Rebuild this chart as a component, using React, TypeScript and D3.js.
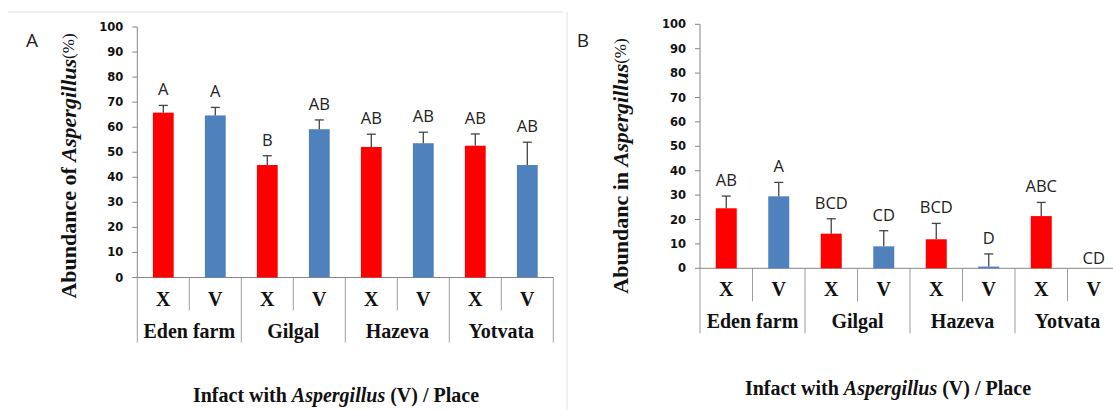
import * as d3 from "d3";
import React from "react";

// categories
const places = ["Eden farm", "Gilgal", "Hazeva", "Yotvata"];
const treatments = ["X", "V"];
const yTicks = [0, 10, 20, 30, 40, 50, 60, 70, 80, 90, 100];

// panel A: abundance of Aspergillus (%)
const meansA = [65.8, 64.7, 44.9, 59.2, 52.1, 53.6, 52.6, 44.9];
const errorsA = [2.9, 3.2, 3.7, 3.7, 5.1, 4.4, 4.7, 9.1];
const lettersA = ["A", "A", "B", "AB", "AB", "AB", "AB", "AB"];

// panel B: abundance in Aspergillus (%)
const meansB = [24.6, 29.5, 14.2, 9.0, 11.9, 0.7, 21.4, 0];
const errorsB = [5.0, 5.7, 6.1, 6.4, 6.5, 5.2, 5.6, 0];
const lettersB = ["AB", "A", "BCD", "CD", "BCD", "D", "ABC", "CD"];

const RED = "#ff0000";
const BLUE = "#4f81bd";
const AXIS = "#868686";
const SERIF = "Liberation Serif";
const SANS = "Open Sans";

const keys = places.flatMap((p) => treatments.map((t) => p + "|" + t));

type PanelProps = {
  label: string;
  labelX: number;
  means: number[];
  errors: number[];
  letters: string[];
  yWord: string;
  x0: number;
  slot: number;
  yBottom: number;
  yTop: number;
  titleX: number;
  xTitleX: number;
  xTitleY: number;
};

function Panel(p: PanelProps) {
  const x = d3
    .scaleBand<string>()
    .domain(keys)
    .range([p.x0, p.x0 + p.slot * keys.length])
    .paddingInner(0.6)
    .paddingOuter(0.3);
  const y = d3.scaleLinear().domain([0, 100]).range([p.yBottom, p.yTop]);
  const bw = x.bandwidth();

  return (
    <g>
      <text x={p.labelX} y={40} fontFamily={SANS} fontSize={19} textAnchor="middle" dominantBaseline="central" fill="#222">
        {p.label}
      </text>

      {/* y title */}
      <text
        transform={`translate(${p.titleX},166) rotate(-90)`}
        textAnchor="middle"
        dominantBaseline="central"
        fontFamily={SERIF}
        fontSize={22}
        fill="#111"
      >
        <tspan fontWeight="bold">{p.yWord}</tspan>
        <tspan fontWeight="bold" fontStyle="italic">Aspergillus</tspan>
        <tspan fontSize={17}>(%)</tspan>
      </text>

      {/* y axis */}
      <line x1={p.x0} x2={p.x0} y1={y(0)} y2={y(100)} stroke={AXIS} />
      {yTicks.map((t) => (
        <g key={t}>
          <line x1={p.x0 - 5} x2={p.x0} y1={y(t)} y2={y(t)} stroke={AXIS} />
          <text
            x={p.x0 - 14}
            y={y(t)}
            textAnchor="end"
            dominantBaseline="central"
            fontFamily="DejaVu Sans"
            fontWeight="bold"
            fontSize={11.5}
            fill="#111"
          >
            {t}
          </text>
        </g>
      ))}

      {/* x axis and category dividers */}
      <line x1={p.x0} x2={p.x0 + p.slot * keys.length} y1={y(0)} y2={y(0)} stroke={AXIS} />
      {d3.range(keys.length + 1).map((i) => (
        <line
          key={i}
          x1={p.x0 + i * p.slot}
          x2={p.x0 + i * p.slot}
          y1={y(0)}
          y2={y(0) + (i % 2 === 0 ? 65 : 33)}
          stroke={AXIS}
          strokeOpacity={0.8}
        />
      ))}

      {/* bars */}
      {keys.map((k, i) => {
        const cx = (x(k) as number) + bw / 2;
        const top = y(p.means[i] + p.errors[i]);
        return (
          <g key={k}>
            <rect
              x={x(k)}
              y={y(p.means[i])}
              width={bw}
              height={y(0) - y(p.means[i])}
              fill={i % 2 === 0 ? RED : BLUE}
            />
            {p.errors[i] > 0 && (
              <g stroke="#444" strokeWidth={1.3}>
                <line x1={cx} x2={cx} y1={y(p.means[i])} y2={top} />
                <line x1={cx - 4.5} x2={cx + 4.5} y1={top} y2={top} />
              </g>
            )}
            <text
              x={cx}
              y={top - (p.errors[i] > 0 ? 10 : 4)}
              textAnchor="middle"
              fontFamily={SANS}
              fontSize={16.5}
              fill="#222"
            >
              {p.letters[i]}
            </text>
            <text
              x={cx}
              y={y(0) + 21}
              textAnchor="middle"
              dominantBaseline="central"
              fontFamily={SERIF}
              fontWeight="bold"
              fontSize={20}
              fill="#111"
            >
              {k.split("|")[1]}
            </text>
          </g>
        );
      })}

      {places.map((pl, j) => (
        <text
          key={pl}
          x={p.x0 + (j * 2 + 1) * p.slot}
          y={y(0) + 53}
          textAnchor="middle"
          dominantBaseline="central"
          fontFamily={SERIF}
          fontWeight="bold"
          fontSize={20}
          fill="#111"
        >
          {pl}
        </text>
      ))}

      {/* x title */}
      <text
        x={p.xTitleX}
        y={p.xTitleY}
        textAnchor="middle"
        dominantBaseline="central"
        fontFamily={SERIF}
        fontWeight="bold"
        fontSize={20}
        fill="#111"
      >
        Infact with <tspan fontStyle="italic">Aspergillus</tspan> (V) / Place
      </text>
    </g>
  );
}

export default function App() {
  return (
    <svg
      width={1113}
      height={410}
      style={{ position: "absolute", left: 0, top: 0, background: "#fff" }}
    >
      <line x1={8} x2={563} y1={12} y2={12} stroke="#dedede" />
      <line x1={567} x2={567} y1={12} y2={410} stroke="#e4e4e4" />
      <Panel
        label="A"
        labelX={32}
        means={meansA}
        errors={errorsA}
        letters={lettersA}
        yWord="Abundance of "
        x0={137.3}
        slot={52}
        yBottom={277.5}
        yTop={27}
        titleX={68}
        xTitleX={336}
        xTitleY={395}
      />
      <Panel
        label="B"
        labelX={583}
        means={meansB}
        errors={errorsB}
        letters={lettersB}
        yWord="Abundanc  in "
        x0={700}
        slot={52.5}
        yBottom={268.3}
        yTop={24.3}
        titleX={620}
        xTitleX={888}
        xTitleY={388}
      />
    </svg>
  );
}
